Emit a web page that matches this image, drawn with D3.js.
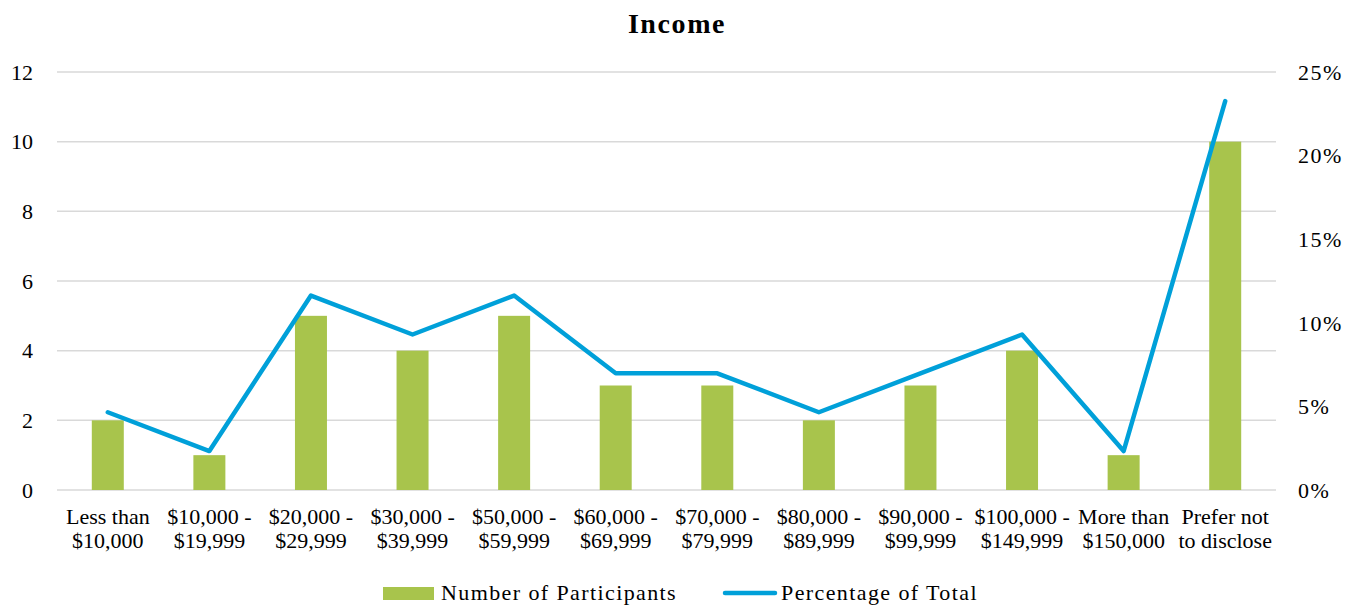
<!DOCTYPE html>
<html>
<head>
<meta charset="utf-8">
<script src="https://cdn.jsdelivr.net/npm/d3@7"></script>
<style>
  html, body { margin: 0; padding: 0; background: #fff; }
  svg { display: block; }
  svg text { font-family: "Liberation Serif", "Times New Roman", serif; }
</style>
</head>
<body>
<svg id="chart" width="1363" height="607"></svg>
<script>
const categories = [
  ["Less than", "$10,000"],
  ["$10,000 -", "$19,999"],
  ["$20,000 -", "$29,999"],
  ["$30,000 -", "$39,999"],
  ["$50,000 -", "$59,999"],
  ["$60,000 -", "$69,999"],
  ["$70,000 -", "$79,999"],
  ["$80,000 -", "$89,999"],
  ["$90,000 -", "$99,999"],
  ["$100,000 -", "$149,999"],
  ["More than", "$150,000"],
  ["Prefer not", "to disclose"]
];
const participants = [2, 1, 5, 4, 5, 3, 3, 2, 3, 4, 1, 10];
const percentOfTotal = [4.65, 2.33, 11.63, 9.30, 11.63, 6.98, 6.98, 4.65, 6.98, 9.30, 2.33, 23.26];
const leftTicks = [0, 2, 4, 6, 8, 10, 12];
const rightTicks = [0, 5, 10, 15, 20, 25];
const seriesNames = ["Number of Participants", "Percentage of Total"];
const chartTitle = "Income";

const barColor = "#a8c44c";
const lineColor = "#00a0d9";
const gridColor = "#d9d9d9";
const fs = 22;

const svg = d3.select("#chart");
const plotLeft = 57, plotRight = 1276, plotTop = 72, plotBottom = 490;

const keys = categories.map(c => c.join(" "));
const x = d3.scaleBand().domain(keys).range([plotLeft, plotRight]).paddingInner(0.685).paddingOuter(0.3425);
const yL = d3.scaleLinear().domain([0, 12]).range([plotBottom, plotTop]);
const yR = d3.scaleLinear().domain([0, 25]).range([plotBottom, plotTop]);

// title
svg.append("text").attr("x", 677).attr("y", 33).attr("text-anchor", "middle")
  .attr("font-size", 28).attr("font-weight", "bold").attr("letter-spacing", 1.6)
  .attr("fill", "#000").text(chartTitle);

// gridlines
svg.append("g").selectAll("line").data(leftTicks).join("line")
  .attr("x1", plotLeft).attr("x2", plotRight)
  .attr("y1", d => yL(d)).attr("y2", d => yL(d))
  .attr("stroke", gridColor).attr("stroke-width", 1.5);

// left axis
const gL = svg.append("g").attr("transform", `translate(${plotLeft},0)`)
  .call(d3.axisLeft(yL).tickValues(leftTicks).tickSize(0).tickPadding(24).tickFormat(d3.format("d")));
gL.attr("font-family", null).attr("font-size", null);
gL.select(".domain").remove();
gL.selectAll("text").attr("font-size", fs).attr("fill", "#000").attr("dy", "0.33em");

// right axis
const gR = svg.append("g").attr("transform", `translate(${plotRight},0)`)
  .call(d3.axisRight(yR).tickValues(rightTicks).tickSize(0).tickPadding(22).tickFormat(d => d + "%"));
gR.attr("font-family", null).attr("font-size", null);
gR.select(".domain").remove();
gR.selectAll("text").attr("font-size", fs).attr("fill", "#000").attr("dy", "0.33em").attr("letter-spacing", 1.5);

// bars
svg.append("g").selectAll("rect").data(participants).join("rect")
  .attr("x", (d, i) => x(keys[i]))
  .attr("width", x.bandwidth())
  .attr("y", d => yL(d))
  .attr("height", d => yL(0) - yL(d))
  .attr("fill", barColor);

// line
const line = d3.line()
  .x((d, i) => x(keys[i]) + x.bandwidth() / 2)
  .y(d => yR(d));
svg.append("path").datum(percentOfTotal)
  .attr("d", line).attr("fill", "none")
  .attr("stroke", lineColor).attr("stroke-width", 4.5)
  .attr("stroke-linejoin", "round").attr("stroke-linecap", "round");

// x labels
const xl = svg.append("g").selectAll("text").data(categories).join("text")
  .attr("text-anchor", "middle").attr("font-size", fs).attr("fill", "#000")
  .attr("x", (d, i) => x(keys[i]) + x.bandwidth() / 2);
xl.append("tspan").attr("y", 524).attr("x", (d, i) => x(keys[i]) + x.bandwidth() / 2).text(d => d[0]);
xl.append("tspan").attr("y", 548).attr("x", (d, i) => x(keys[i]) + x.bandwidth() / 2).text(d => d[1]);

// legend
const lg = svg.append("g");
lg.append("rect").attr("x", 383).attr("y", 587).attr("width", 51).attr("height", 13).attr("fill", barColor);
lg.append("text").attr("x", 441).attr("y", 600).attr("font-size", fs).attr("letter-spacing", 1.4).attr("fill", "#000").text(seriesNames[0]);
lg.append("line").attr("x1", 725).attr("x2", 775).attr("y1", 593).attr("y2", 593)
  .attr("stroke", lineColor).attr("stroke-width", 4.5).attr("stroke-linecap", "round");
lg.append("text").attr("x", 781).attr("y", 600).attr("font-size", fs).attr("letter-spacing", 1.4).attr("fill", "#000").text(seriesNames[1]);
</script>
</body>
</html>
